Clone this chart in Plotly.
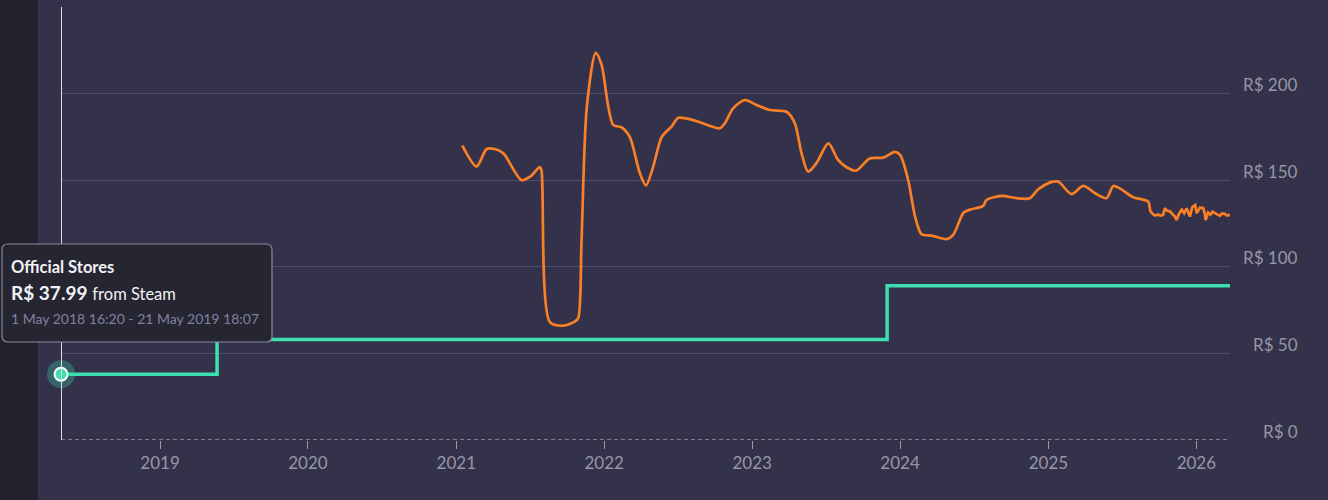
import plotly.graph_objects as go

# ---------------- data ----------------
official_dates = ["2018-05-01 16:20", "2019-05-21 18:07", "2023-11-30", "2026-03-25"]
official_prices = [37.99, 57.99, 88.99, 88.99]

keyshop_dates = [
    "2021-01-16", "2021-02-20", "2021-03-17", "2021-04-06", "2021-04-27", "2021-06-11",
    "2021-07-02", "2021-07-26", "2021-07-30", "2021-08-20", "2021-09-22", "2021-10-21",
    "2021-10-29", "2021-11-06", "2021-11-19", "2021-12-11", "2021-12-25", "2022-01-23",
    "2022-02-13", "2022-03-05", "2022-03-30", "2022-04-14", "2022-05-02", "2022-05-23",
    "2022-06-16", "2022-07-03", "2022-08-09", "2022-10-13", "2022-10-26", "2022-11-15",
    "2022-12-14", "2023-01-12", "2023-02-14", "2023-03-27", "2023-04-16", "2023-05-03",
    "2023-05-19", "2023-06-09", "2023-07-08", "2023-08-01", "2023-08-22", "2023-09-14",
    "2023-10-18", "2023-11-20", "2023-12-19", "2024-01-01", "2024-01-21", "2024-02-07",
    "2024-02-23", "2024-03-19", "2024-04-25", "2024-05-11", "2024-06-06", "2024-06-25",
    "2024-07-24", "2024-08-01", "2024-08-26", "2024-09-11", "2024-10-14", "2024-11-16",
    "2024-12-07", "2025-01-04", "2025-01-25", "2025-02-27", "2025-03-28", "2025-04-26",
    "2025-05-24", "2025-06-10", "2025-06-26", "2025-07-29", "2025-09-04", "2025-09-10",
    "2025-09-21",
]
keyshop_prices = [
    170.0, 158.0, 168.0, 168.0, 165.5, 150.0,
    152.0, 157.5, 156.0, 68.0, 66.0, 68.5,
    70.5, 115.0, 192.0, 223.5, 217.0, 182.0,
    180.5, 175.0, 154.0, 147.0, 158.0, 175.0,
    181.0, 186.0, 184.7, 180.0, 183.0, 191.5,
    196.3, 193.4, 190.5, 189.5, 183.0, 165.5,
    155.0, 160.0, 171.3, 161.7, 157.5, 155.5,
    162.6, 163.0, 166.3, 164.6, 150.0, 129.0,
    118.8, 118.0, 116.0, 118.4, 131.3, 133.2,
    135.2, 138.6, 140.5, 141.0, 139.6, 139.6,
    144.8, 148.6, 149.2, 142.0, 146.7, 142.5,
    139.6, 146.7, 145.3, 140.2, 137.6, 132.0,
    129.4,
]

# recent, noisy part of the keyshop series (drawn without smoothing)
recent_dates = [
    "2025-09-21", "2025-09-28", "2025-10-04", "2025-10-11", "2025-10-15", "2025-10-20",
    "2025-10-28", "2025-11-04", "2025-11-09", "2025-11-13", "2025-11-19", "2025-11-26",
    "2025-12-02", "2025-12-08", "2025-12-12", "2025-12-16", "2025-12-22", "2025-12-29",
    "2026-01-02", "2026-01-05", "2026-01-10", "2026-01-18", "2026-01-22", "2026-01-24",
    "2026-01-30", "2026-02-05", "2026-02-10", "2026-02-16", "2026-02-22", "2026-02-28",
    "2026-03-05", "2026-03-12", "2026-03-18", "2026-03-25",
]
recent_prices = [
    129.4, 130.2, 129.6, 130.0, 133.8, 132.5,
    131.9, 130.5, 129.0, 127.0, 130.5, 133.0,
    131.0, 133.8, 131.5, 129.0, 134.5, 135.7,
    131.0, 132.0, 134.2, 133.8, 130.5, 127.0,
    131.3, 130.2, 131.8, 131.0, 130.0, 129.4,
    130.8, 130.6, 129.6, 130.0,
]

y_ticks = [0, 50, 100, 150, 200]
y_tick_labels = ["R$ 0", "R$ 50", "R$ 100", "R$ 150", "R$ 200"]
x_ticks = ["2019-01-01", "2020-01-01", "2021-01-01", "2022-01-01",
           "2023-01-01", "2024-01-01", "2025-01-01", "2026-01-01"]
x_tick_labels = ["2019", "2020", "2021", "2022", "2023", "2024", "2025", "2026"]

x_range = ["2018-05-01 16:20", "2026-03-25"]
y_range = [0, 250]

tooltip_title = "Official Stores"
tooltip_price = "R$ 37.99"
tooltip_store = "from Steam"
tooltip_period = "1 May 2018 16:20 - 21 May 2019 18:07"

# ---------------- style ----------------
BG = "#34324a"
STRIP = "#22212d"
GRID = "#4f4d69"
TEAL = "#3ddfb0"
ORANGE = "#fb7f26"
LABEL = "#9796a8"
FONT = "Lato"

W, H = 1328, 500
ML, MR, MT, MB = 61, 98, 7, 60
PW, PH = W - ML - MR, H - MT - MB


def px_x(p):
    return (p - ML) / PW


def px_y(p):
    return (H - MB - p) / PH


fig = go.Figure()

# keyshop (orange) smooth part
fig.add_trace(go.Scatter(
    x=keyshop_dates, y=keyshop_prices, mode="lines",
    line=dict(color=ORANGE, width=2.7, shape="spline", smoothing=0.8),
    hoverinfo="skip", showlegend=False,
))
# keyshop recent noisy part
fig.add_trace(go.Scatter(
    x=recent_dates, y=recent_prices, mode="lines",
    line=dict(color=ORANGE, width=2.7),
    hoverinfo="skip", showlegend=False,
))
# official stores (teal) step line
fig.add_trace(go.Scatter(
    x=official_dates, y=official_prices, mode="lines",
    line=dict(color=TEAL, width=3.5, shape="hv"),
    hoverinfo="skip", showlegend=False,
))

# hover crosshair
fig.add_shape(type="line", xref="x", yref="paper",
              x0=official_dates[0], x1=official_dates[0], y0=0, y1=1,
              line=dict(color="#dcdbe6", width=2), layer="above")

# hovered point: halo + marker
fig.add_trace(go.Scatter(
    x=[official_dates[0]], y=[official_prices[0]], mode="markers",
    marker=dict(size=28, color="rgba(61,223,176,0.30)", line=dict(width=0)),
    hoverinfo="skip", showlegend=False, cliponaxis=False,
))
fig.add_trace(go.Scatter(
    x=[official_dates[0]], y=[official_prices[0]], mode="markers",
    marker=dict(size=13, color=TEAL, line=dict(color="white", width=2)),
    hoverinfo="skip", showlegend=False, cliponaxis=False,
))

shapes = []
# left dark strip
shapes.append(dict(type="rect", xref="paper", yref="paper",
                   x0=px_x(0), x1=px_x(38), y0=px_y(H), y1=px_y(0),
                   fillcolor=STRIP, line=dict(width=0), layer="below"))
# dashed baseline
shapes.append(dict(type="line", xref="paper", yref="y", x0=0, x1=1, y0=0, y1=0,
                   line=dict(color="#c9c8d4", width=1, dash="4px,3px"), layer="above"))

# tooltip box (rounded)
x0, x1 = px_x(2), px_x(272)
y0, y1 = px_y(342), px_y(244)
r = 6
rx, ry = r / PW, r / PH
path = (f"M {x0+rx},{y0} L {x1-rx},{y0} Q {x1},{y0} {x1},{y0+ry} "
        f"L {x1},{y1-ry} Q {x1},{y1} {x1-rx},{y1} L {x0+rx},{y1} "
        f"Q {x0},{y1} {x0},{y1-ry} L {x0},{y0+ry} Q {x0},{y0} {x0+rx},{y0} Z")
shapes.append(dict(type="path", xref="paper", yref="paper", path=path,
                   fillcolor="#262532", line=dict(color="#8a899c", width=1.2),
                   layer="above"))
for s in shapes:
    fig.add_shape(**s)

annotations = []
# y tick labels (right aligned, above gridlines)
for v, lab in zip(y_ticks, y_tick_labels):
    annotations.append(dict(
        x=px_x(1300), xref="paper", y=v, yref="y", text=lab, showarrow=False,
        xanchor="right", yanchor="middle", yshift=9,
        font=dict(family=FONT, size=17, color=LABEL)))

# tooltip text
annotations.append(dict(x=px_x(9), y=px_y(267), xref="paper", yref="paper",
                        text=f"<b>{tooltip_title}</b>", showarrow=False,
                        xanchor="left", yanchor="middle",
                        font=dict(family=FONT, size=16.5, color="#f2f2f6")))
annotations.append(dict(x=px_x(9), y=px_y(292), xref="paper", yref="paper",
                        text=f"<b>{tooltip_price}</b> <span style='font-size:16.5px'>{tooltip_store}</span>",
                        showarrow=False, xanchor="left", yanchor="middle",
                        font=dict(family=FONT, size=19, color="#f2f2f6")))
annotations.append(dict(x=px_x(9), y=px_y(318), xref="paper", yref="paper",
                        text=tooltip_period, showarrow=False,
                        xanchor="left", yanchor="middle",
                        font=dict(family=FONT, size=14, color="#8281a0")))

fig.update_layout(
    width=W, height=H,
    margin=dict(l=ML, r=MR, t=MT, b=MB, pad=0),
    paper_bgcolor=BG, plot_bgcolor=BG,
    showlegend=False,
    annotations=annotations,
    xaxis=dict(
        type="date", range=x_range, tickvals=x_ticks, ticktext=x_tick_labels,
        showgrid=False, zeroline=False, showline=False,
        ticks="outside", ticklen=8, tickwidth=1, tickcolor="#9c9bab",
        tickfont=dict(family=FONT, size=17, color=LABEL),
        fixedrange=True,
    ),
    yaxis=dict(
        range=y_range, tickvals=[0, 50, 100, 150, 200, 250],
        showticklabels=False, showgrid=True, gridcolor=GRID, gridwidth=1.2,
        zeroline=False, showline=False, fixedrange=True,
    ),
)

fig.write_html("out.html")
